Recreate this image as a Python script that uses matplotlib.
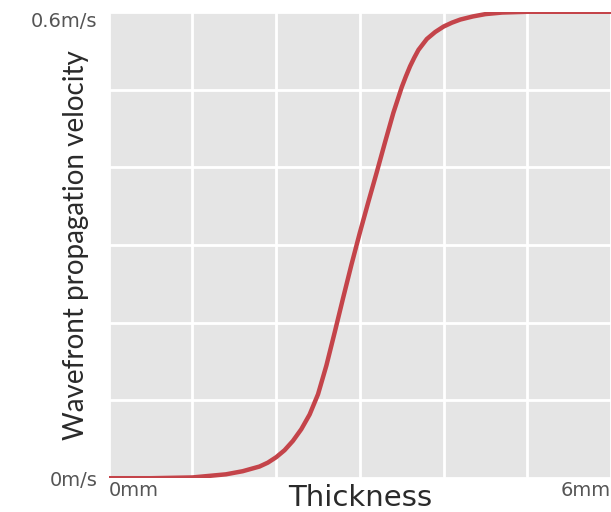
import numpy as np
import matplotlib
matplotlib.use("Agg")
import matplotlib.pyplot as plt

# values (thickness in mm, velocity in m/s)
thickness = [0.0, 0.5, 1.0, 1.2, 1.4, 1.6, 1.8, 1.9, 2.0, 2.1, 2.2, 2.3, 2.4,
             2.5, 2.6, 2.7, 2.8, 2.9, 3.0, 3.1, 3.2, 3.3, 3.4, 3.5, 3.55, 3.6,
             3.65, 3.7, 3.8, 3.9, 4.0, 4.1, 4.2, 4.35, 4.5, 4.7, 5.0, 6.0]
velocity = [0.000, 0.000, 0.001, 0.003, 0.005, 0.009, 0.015, 0.020, 0.027,
            0.036, 0.048, 0.063, 0.082, 0.108, 0.145, 0.188, 0.232, 0.275,
            0.316, 0.355, 0.393, 0.432, 0.470, 0.503, 0.517, 0.530, 0.541,
            0.551, 0.565, 0.574, 0.581, 0.586, 0.590, 0.594, 0.597, 0.599,
            0.600, 0.600]

x_ticks = [0, 1, 2, 3, 4, 5, 6]
x_labels = ["0mm", "", "", "", "", "", "6mm"]
y_ticks = [0, 0.1, 0.2, 0.3, 0.4, 0.5, 0.6]
y_labels = ["0m/s", "", "", "", "", "", "0.6m/s"]

plt.rcParams['font.family'] = ['Lato', 'DejaVu Sans']

fig = plt.figure(figsize=(6.11, 5.12), dpi=100)
ax = fig.add_axes([0.178, 0.066, 0.822, 0.911])
ax.set_facecolor('#e5e5e5')

ax.plot(thickness, velocity, color='#c4444a', lw=3.2, solid_joinstyle='round')

ax.set_xlim(0, 6)
ax.set_ylim(0, 0.6)
ax.set_xticks(x_ticks)
ax.set_xticklabels(x_labels, fontsize=14, color='#555555', family='DejaVu Sans')
ax.set_yticks(y_ticks)
ax.set_yticklabels(y_labels, fontsize=14, color='#555555', family='DejaVu Sans')
ax.get_xticklabels()[0].set_ha('left')
ax.get_xticklabels()[-1].set_ha('right')
ax.get_yticklabels()[-1].set_va('top')
ax.tick_params(axis='y', length=0, pad=8)
ax.tick_params(axis='x', length=0, pad=2)
ax.grid(color='white', lw=2)
ax.set_axisbelow(True)
for s in ax.spines.values():
    s.set_visible(False)

ax.set_xlabel("Thickness", fontsize=21, color='#2a2a2a', family='DejaVu Sans')
ax.set_ylabel("Wavefront propagation velocity", fontsize=20, color='#2a2a2a')
ax.xaxis.set_label_coords(0.5, -0.013)
ax.xaxis.label.set_va('top')
ax.yaxis.set_label_coords(-0.04, 0.5)

fig.savefig("out.png", dpi=100)
